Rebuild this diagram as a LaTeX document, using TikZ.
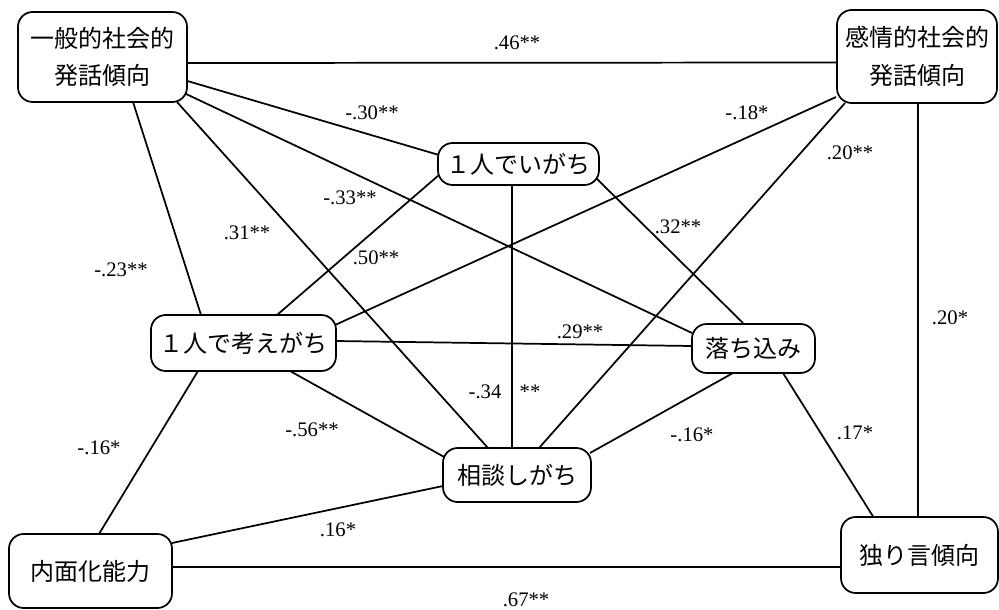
\documentclass[tikz,border=0pt]{standalone}
\usepackage{fontspec}
\setmainfont{Liberation Serif}
\newfontfamily\jp{Noto Sans CJK JP}
\usetikzlibrary{calc,backgrounds}

\begin{document}
\begin{tikzpicture}[x=0.75pt, y=-0.75pt,
    box/.style 2 args={draw, line width=1.3pt, fill=white, rounded corners=11pt,
        minimum width=#1*0.75pt, minimum height=#2*0.75pt, inner sep=0pt,
        align=center, font=\jp\fontsize{18}{28}\selectfont},
    link/.style={line width=1.3pt},
    coef/.style={font=\fontsize{15.5}{15.5}\selectfont, inner sep=0pt}]
    % Page size as in the original figure
    \useasboundingbox (0,0) rectangle (999,610);
    % Variables
    \node[box={169}{90}] (ippan) at (102.5,57) {一般的社会的\\発話傾向};
    \node[box={160}{93}] (kanjo) at (917,56.5) {感情的社会的\\発話傾向};
    \node[box={161}{42}] (iru) at (518.5,164) {１人でいがち};
    \node[box={185}{56}] (kangae) at (243.5,343) {１人で考えがち};
    \node[box={123}{49}] (ochikomi) at (753.5,348.5) {落ち込み};
    \node[box={148}{54}] (sodan) at (517,475) {相談しがち};
    \node[box={163}{74}] (naimen) at (90.5,571) {内面化能力};
    \node[box={157}{76}] (hitori) at (919.5,555) {独り言傾向};
    % Correlations, drawn behind the boxes
    \begin{scope}[on background layer]
    \foreach \p/\px/\py/\q/\qx/\qy in {
        ippan/80/6/kanjo/-80/6,
        ippan/81.5/23/iru/-79.5/-9,
        ippan/81.5/36/ochikomi/-61.5/-15.5,
        ippan/74.5/45/sodan/-29/-27,
        ippan/30.5/45/kangae/-42.5/-28,
        kanjo/-81/40.5/kangae/91.5/-18,
        kanjo/-72/46.5/sodan/22/-27,
        kanjo/1/46.5/hitori/-1.5/-38,
        iru/-79.5/11/kangae/33.5/-28,
        iru/-6.5/21/sodan/-5/-27,
        iru/76.5/13/ochikomi/-10.5/-25.5,
        kangae/92.5/-2/ochikomi/-61.5/-2.5,
        kangae/46.5/28/sodan/-71/-17,
        kangae/-45.5/28/naimen/8.5/-37,
        ochikomi/-20.5/24.5/sodan/73/-22,
        ochikomi/29.5/24.5/hitori/-45.5/-37,
        sodan/-74/11/naimen/81.5/-28,
        naimen/81.5/-4/hitori/-78.5/12
    } {
        \draw[link] ($(\p)+(\px,\py)$) -- ($(\q)+(\qx,\qy)$);
    }
    \end{scope}
    % Coefficients
    \foreach \x/\y/\r [count=\i] in {
        517/43/.46**, 372/113/-.30**, 747/113/-.18*, 850/153/.20**,
        350/198/-.33**, 247/233/.31**, 678/227/.32**, 121/270/-.23**,
        376/258/.50**, 950/318/.20*, 580/332/.29**, 485/392/-.34,
        530/392/**, 312/430/-.56**, 99/448/-.16*, 692/435/-.16*,
        855/433/.17*, 338/530/.16*, 526/600/.67**
    } {
        \node[coef] (r\i) at (\x,\y) {\r};
    }
\end{tikzpicture}
\end{document}
